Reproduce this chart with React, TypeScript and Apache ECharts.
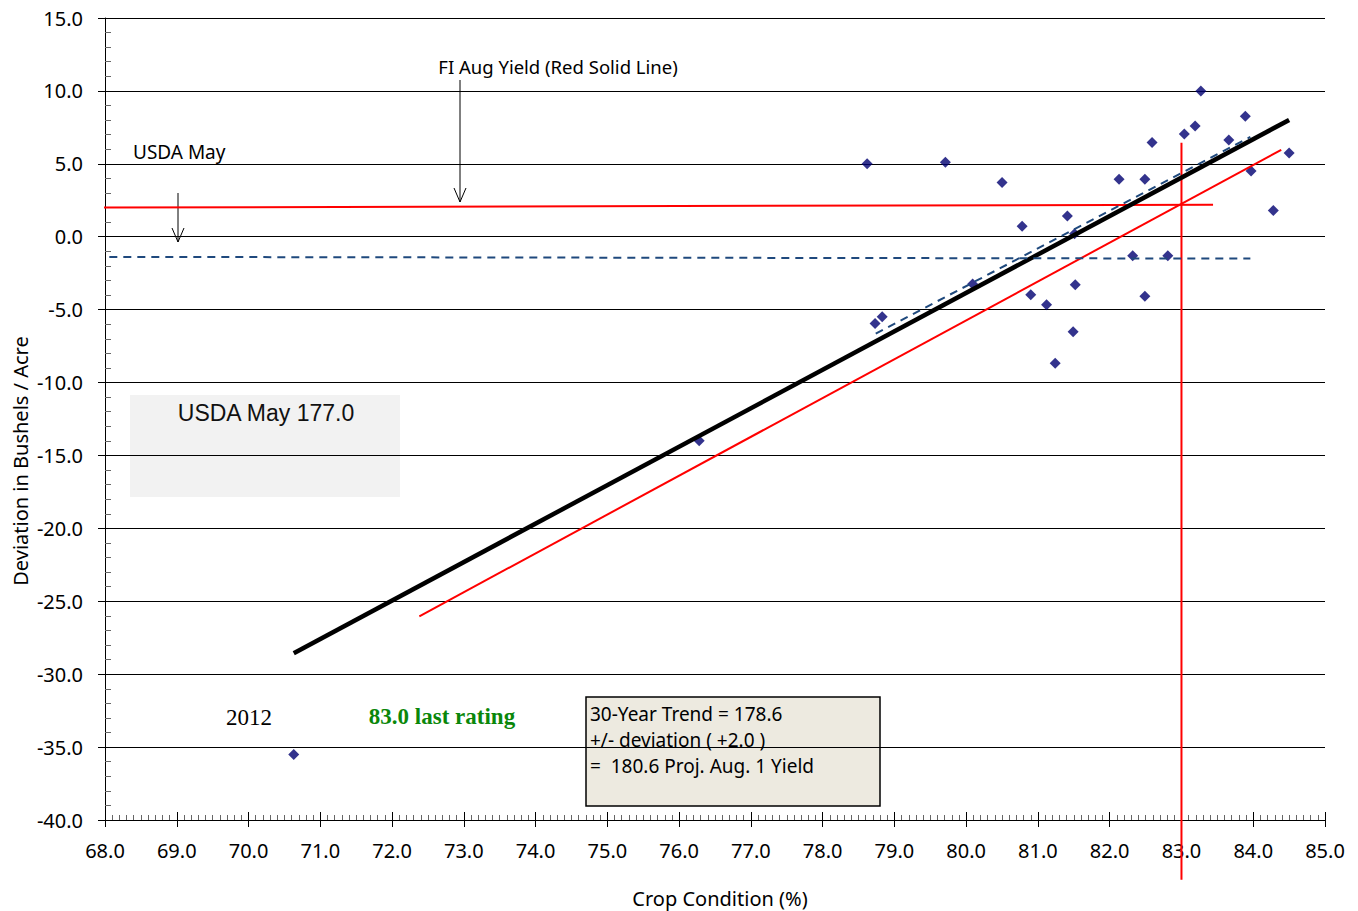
import React, { useEffect, useRef } from "react";
import * as echarts from "echarts";

// Crop condition (%) vs deviation from trend (bu/acre)
const conditions = [
  78.62, 79.71, 80.5, 80.78, 80.09, 80.9, 81.12, 81.41, 81.51, 81.52,
  81.49, 81.24, 82.13, 82.32, 82.49, 82.49, 82.59, 82.81, 83.04, 83.19,
  83.27, 83.66, 83.89, 83.97, 84.28, 84.5, 78.73, 78.83, 76.28, 70.63,
];
const deviations = [
  5.0, 5.1, 3.72, 0.72, -3.25, -3.98, -4.66, 1.43, 0.2, -3.3,
  -6.51, -8.68, 3.94, -1.3, 3.94, -4.08, 6.47, -1.3, 7.04, 7.6,
  10.0, 6.63, 8.27, 4.5, 1.8, 5.75, -5.95, -5.49, -14.0, -35.5,
];
const trendX = [70.63, 84.5];
const trendY = [-28.56, 8.01];
const fiAugX = [72.38, 84.39];
const fiAugY = [-26.03, 5.96];
const usdaTrendX = [78.74, 83.96];
const usdaTrendY = [-6.64, 6.85];
const usdaMayX = [67.67, 83.96];
const usdaMayY = [-1.38, -1.5];
const fiLevelX = [67.89, 83.44];
const fiLevelY = [2.0, 2.2];
const lastRatingX = [83.0, 83.0];
const lastRatingY = [6.44, -44.1];
const xTicks = { min: 68, max: 85, step: 1 };
const yTicks = { min: -40, max: 15, step: 5 };

const pairs = (xs: number[], ys: number[]) => xs.map((x, i) => [x, ys[i]]);

const FONT = "Noto Sans";

export default function App() {
  const ref = useRef<HTMLDivElement>(null);
  useEffect(() => {
    document.body.style.margin = "0";
    if (!ref.current) return;
    const chart = echarts.init(ref.current, null, { renderer: "svg" });
    const fmt = (v: number) => v.toFixed(1);
    const arrow = (x: number, y1: number, y2: number) => [
      { type: "line", shape: { x1: x, y1, x2: x, y2 }, style: { stroke: "#000", lineWidth: 1 } },
      {
        type: "polyline",
        shape: { points: [[x - 6, y2 - 14], [x, y2], [x + 6, y2 - 14]] },
        style: { stroke: "#000", lineWidth: 1, fill: "none" },
      },
    ];
    chart.setOption({
      animation: false,
      backgroundColor: "#fff",
      grid: { left: 105, right: 33, top: 18, bottom: 91 },
      xAxis: [
        {
          type: "value", min: xTicks.min, max: xTicks.max, interval: xTicks.step, position: "bottom",
          axisLine: { onZero: false, lineStyle: { color: "#000", width: 1 } },
          axisTick: { show: true, length: 7, lineStyle: { color: "#000" } },
          axisLabel: { formatter: fmt, fontSize: 20, color: "#000", margin: 20, fontFamily: FONT },
          splitLine: { show: false },
        },
        {
          type: "value", min: xTicks.min, max: xTicks.max, interval: xTicks.step, position: "bottom",
          axisLine: { show: false, onZero: false },
          axisTick: { show: true, inside: true, length: 8, lineStyle: { color: "#000" } },
          minorTick: { show: true, splitNumber: 10, length: 5, lineStyle: { color: "#666" } },
          axisLabel: { show: false },
          splitLine: { show: false },
        },
      ],
      yAxis: [
        {
          type: "value", min: yTicks.min, max: yTicks.max, interval: yTicks.step, position: "left",
          axisLine: { show: true, onZero: false, lineStyle: { color: "#000", width: 1 } },
          axisTick: { show: true, length: 7, lineStyle: { color: "#000" } },
          axisLabel: { formatter: fmt, fontSize: 20, color: "#000", margin: 22, fontFamily: FONT },
          splitLine: { show: true, lineStyle: { color: "#000", width: 1 } },
        },
        {
          type: "value", min: yTicks.min, max: yTicks.max, interval: yTicks.step, position: "left",
          axisLine: { show: false, onZero: false },
          axisTick: { show: true, inside: true, length: 0 },
          minorTick: { show: true, splitNumber: 5, length: 6, lineStyle: { color: "#666" } },
          axisLabel: { show: false },
          splitLine: { show: false },
        },
      ],
      series: [
        {
          type: "line", data: pairs(fiLevelX, fiLevelY), symbol: "none", clip: false,
          lineStyle: { color: "#FF0000", width: 2 },
        },
        {
          type: "line", data: pairs(lastRatingX, lastRatingY), symbol: "none", clip: false,
          lineStyle: { color: "#FF0000", width: 2 },
        },
        {
          type: "line", data: pairs(fiAugX, fiAugY), symbol: "none",
          lineStyle: { color: "#FF0000", width: 2 },
        },
        {
          type: "line", data: pairs(trendX, trendY), symbol: "none",
          lineStyle: { color: "#000", width: 4.5 },
        },
        {
          type: "line", data: pairs(usdaTrendX, usdaTrendY), symbol: "none",
          lineStyle: { color: "#1F497D", width: 2, type: [8, 6] },
        },
        {
          type: "line", data: pairs(usdaMayX, usdaMayY), symbol: "none", clip: false,
          lineStyle: { color: "#1F497D", width: 2, type: [8, 6] },
        },
        {
          type: "scatter", data: pairs(conditions, deviations), symbol: "diamond", symbolSize: 11,
          itemStyle: { color: "#000070" },
        },
      ],
      graphic: [
        { type: "rect", shape: { x: 130, y: 395, width: 270, height: 102 }, style: { fill: "#F2F2F2" } },
        {
          type: "text", x: 266, y: 413,
          style: { text: "USDA May 177.0", fontSize: 23, fontFamily: "Liberation Sans", fill: "#111", align: "center", verticalAlign: "middle" },
        },
        {
          type: "text", x: 249, y: 717,
          style: { text: "2012", fontSize: 23, fontFamily: "Liberation Serif", fill: "#000", align: "center", verticalAlign: "middle" },
        },
        {
          type: "text", x: 442, y: 716,
          style: { text: "83.0 last rating", fontSize: 23, fontWeight: "bold", fontFamily: "Liberation Serif", fill: "#0A870A", align: "center", verticalAlign: "middle" },
        },
        { type: "rect", shape: { x: 586, y: 697, width: 294, height: 109 }, style: { fill: "#EDEAE0", stroke: "#000", lineWidth: 1.5 } },
        {
          type: "text", x: 590, y: 714,
          style: { text: "30-Year Trend = 178.6", fontSize: 19, fontFamily: FONT, fill: "#000", verticalAlign: "middle" },
        },
        {
          type: "text", x: 590, y: 740,
          style: { text: "+/- deviation ( +2.0 )", fontSize: 19, fontFamily: FONT, fill: "#000", verticalAlign: "middle" },
        },
        {
          type: "text", x: 590, y: 766,
          style: { text: "=  180.6 Proj. Aug. 1 Yield", fontSize: 19, fontFamily: FONT, fill: "#000", verticalAlign: "middle" },
        },
        {
          type: "text", x: 133, y: 152,
          style: { text: "USDA May", fontSize: 19, fontFamily: FONT, fill: "#000", verticalAlign: "middle" },
        },
        {
          type: "text", x: 558, y: 66,
          style: { text: "FI Aug Yield (Red Solid Line)", fontSize: 18.5, fontFamily: FONT, fill: "#000", align: "center", verticalAlign: "middle" },
        },
        ...arrow(178, 193, 242),
        ...arrow(460, 80, 202),
        {
          type: "text", x: 720, y: 898,
          style: { text: "Crop Condition (%)", fontSize: 20, lineHeight: 22, fontFamily: FONT, fill: "#000", align: "center", verticalAlign: "middle" },
        },
        {
          type: "text", x: 20, y: 461, rotation: Math.PI / 2,
          style: { text: "Deviation in Bushels / Acre", fontSize: 20, fontFamily: FONT, fill: "#000", align: "center", verticalAlign: "middle" },
        },
      ],
    });
    return () => chart.dispose();
  }, []);
  return <div ref={ref} style={{ width: 1358, height: 911 }} />;
}
